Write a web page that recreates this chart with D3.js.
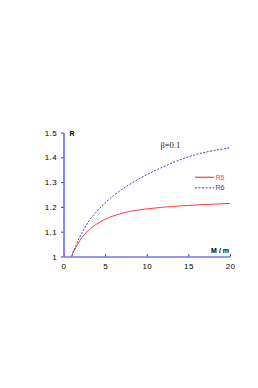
<!DOCTYPE html>
<html><head><meta charset="utf-8">
<script src="https://cdn.jsdelivr.net/npm/d3@7/dist/d3.min.js"></script>
<style>body{margin:0;background:#fff}svg{display:block}</style>
</head><body>
<script>
const xR5 = [1, 1.1, 1.25, 1.5, 2, 2.5, 3, 4, 5, 6, 7, 8, 10, 12, 14, 16, 18, 20];
const yR5 = [1.0, 1.012, 1.022, 1.038, 1.066, 1.088, 1.106, 1.131, 1.150, 1.164, 1.174, 1.182, 1.192, 1.199, 1.204, 1.208, 1.211, 1.214];
const xR6 = [1, 1.1, 1.25, 1.5, 2, 2.5, 3, 4, 5, 6, 7, 8, 10, 12, 14, 16, 18, 20];
const yR6 = [1.0, 1.012, 1.025, 1.045, 1.082, 1.112, 1.14, 1.182, 1.216, 1.245, 1.27, 1.292, 1.33, 1.362, 1.39, 1.412, 1.427, 1.438];
const xTicks = [0, 5, 10, 15, 20];
const yTicks = [1, 1.1, 1.2, 1.3, 1.4, 1.5];
const seriesNames = ["R5", "R6"];

const W = 258, H = 388;
const svg = d3.select("body").append("svg").attr("width", W).attr("height", H);
const x = d3.scaleLinear().domain([0, 20]).range([63.5, 230]);
const y = d3.scaleLinear().domain([1, 1.5]).range([256.5, 132.5]);
const axisBlue = "#3333dd";
const font = "Liberation Sans, Arial, sans-serif";

// x axis
const gx = svg.append("g").attr("transform", `translate(0,${y(1)})`)
  .call(d3.axisBottom(x).tickValues(xTicks).tickSize(0).tickSizeOuter(0).tickPadding(7));
gx.select(".domain").attr("stroke", axisBlue).attr("stroke-width", 1);
gx.selectAll(".tick line").attr("stroke", axisBlue).attr("y1", -2.5).attr("y2", 0);
gx.selectAll(".tick text").attr("font-family", font).attr("font-size", 8)
  .attr("letter-spacing", 0.4).attr("fill", "#000");

// y axis
const gy = svg.append("g").attr("transform", `translate(${x(0)},0)`)
  .call(d3.axisLeft(y).tickValues(yTicks).tickFormat(d => d3.format("")(+d.toFixed(1))).tickSize(2.5).tickSizeOuter(0).tickPadding(4));
gy.select(".domain").attr("stroke", "#7a7aff").attr("stroke-width", 1.8);
gy.selectAll(".tick line").attr("stroke", axisBlue);
gy.selectAll(".tick text").attr("font-family", font).attr("font-size", 8)
  .attr("letter-spacing", 0.4).attr("fill", "#000");

// curves
const line = d3.line().curve(d3.curveMonotoneX).x(d => x(d[0])).y(d => y(d[1]));
svg.append("path").datum(xR5.map((v, i) => [v, yR5[i]]))
  .attr("d", line).attr("fill", "none").attr("stroke", "#ff3b3b").attr("stroke-width", 1);
svg.append("path").datum(xR6.map((v, i) => [v, yR6[i]]))
  .attr("d", line).attr("fill", "none").attr("stroke", "#3838ee").attr("stroke-width", 1)
  .attr("stroke-dasharray", "2,1.5");

// axis labels
svg.append("text").attr("x", 69.5).attr("y", 136.3).text("R")
  .attr("font-family", font).attr("font-size", 7).attr("font-weight", "bold");
svg.append("text").attr("x", 229).attr("y", 253).attr("text-anchor", "end").text("M / m")
  .attr("font-family", font).attr("font-size", 7).attr("font-weight", "bold");

// annotation
svg.append("text").attr("x", 160.5).attr("y", 148).text("β=0.1")
  .attr("font-family", "Liberation Serif, Times New Roman, serif").attr("font-size", 8.5).attr("fill", "#222");

// legend
const legY = [177.3, 187.8];
const legCol = ["#ff4a4a", "#3838ee"];
seriesNames.forEach((n, i) => {
  svg.append("line").attr("x1", 195).attr("x2", 214).attr("y1", legY[i]).attr("y2", legY[i])
    .attr("stroke", legCol[i]).attr("stroke-width", i === 0 ? 1.3 : 1)
    .attr("stroke-dasharray", i === 1 ? "2,1.5" : null);
  svg.append("text").attr("x", 215.5).attr("y", legY[i] + 2.6).text(n)
    .attr("font-family", font).attr("font-size", 7).attr("fill", legCol[i]);
});
</script>
</body></html>
